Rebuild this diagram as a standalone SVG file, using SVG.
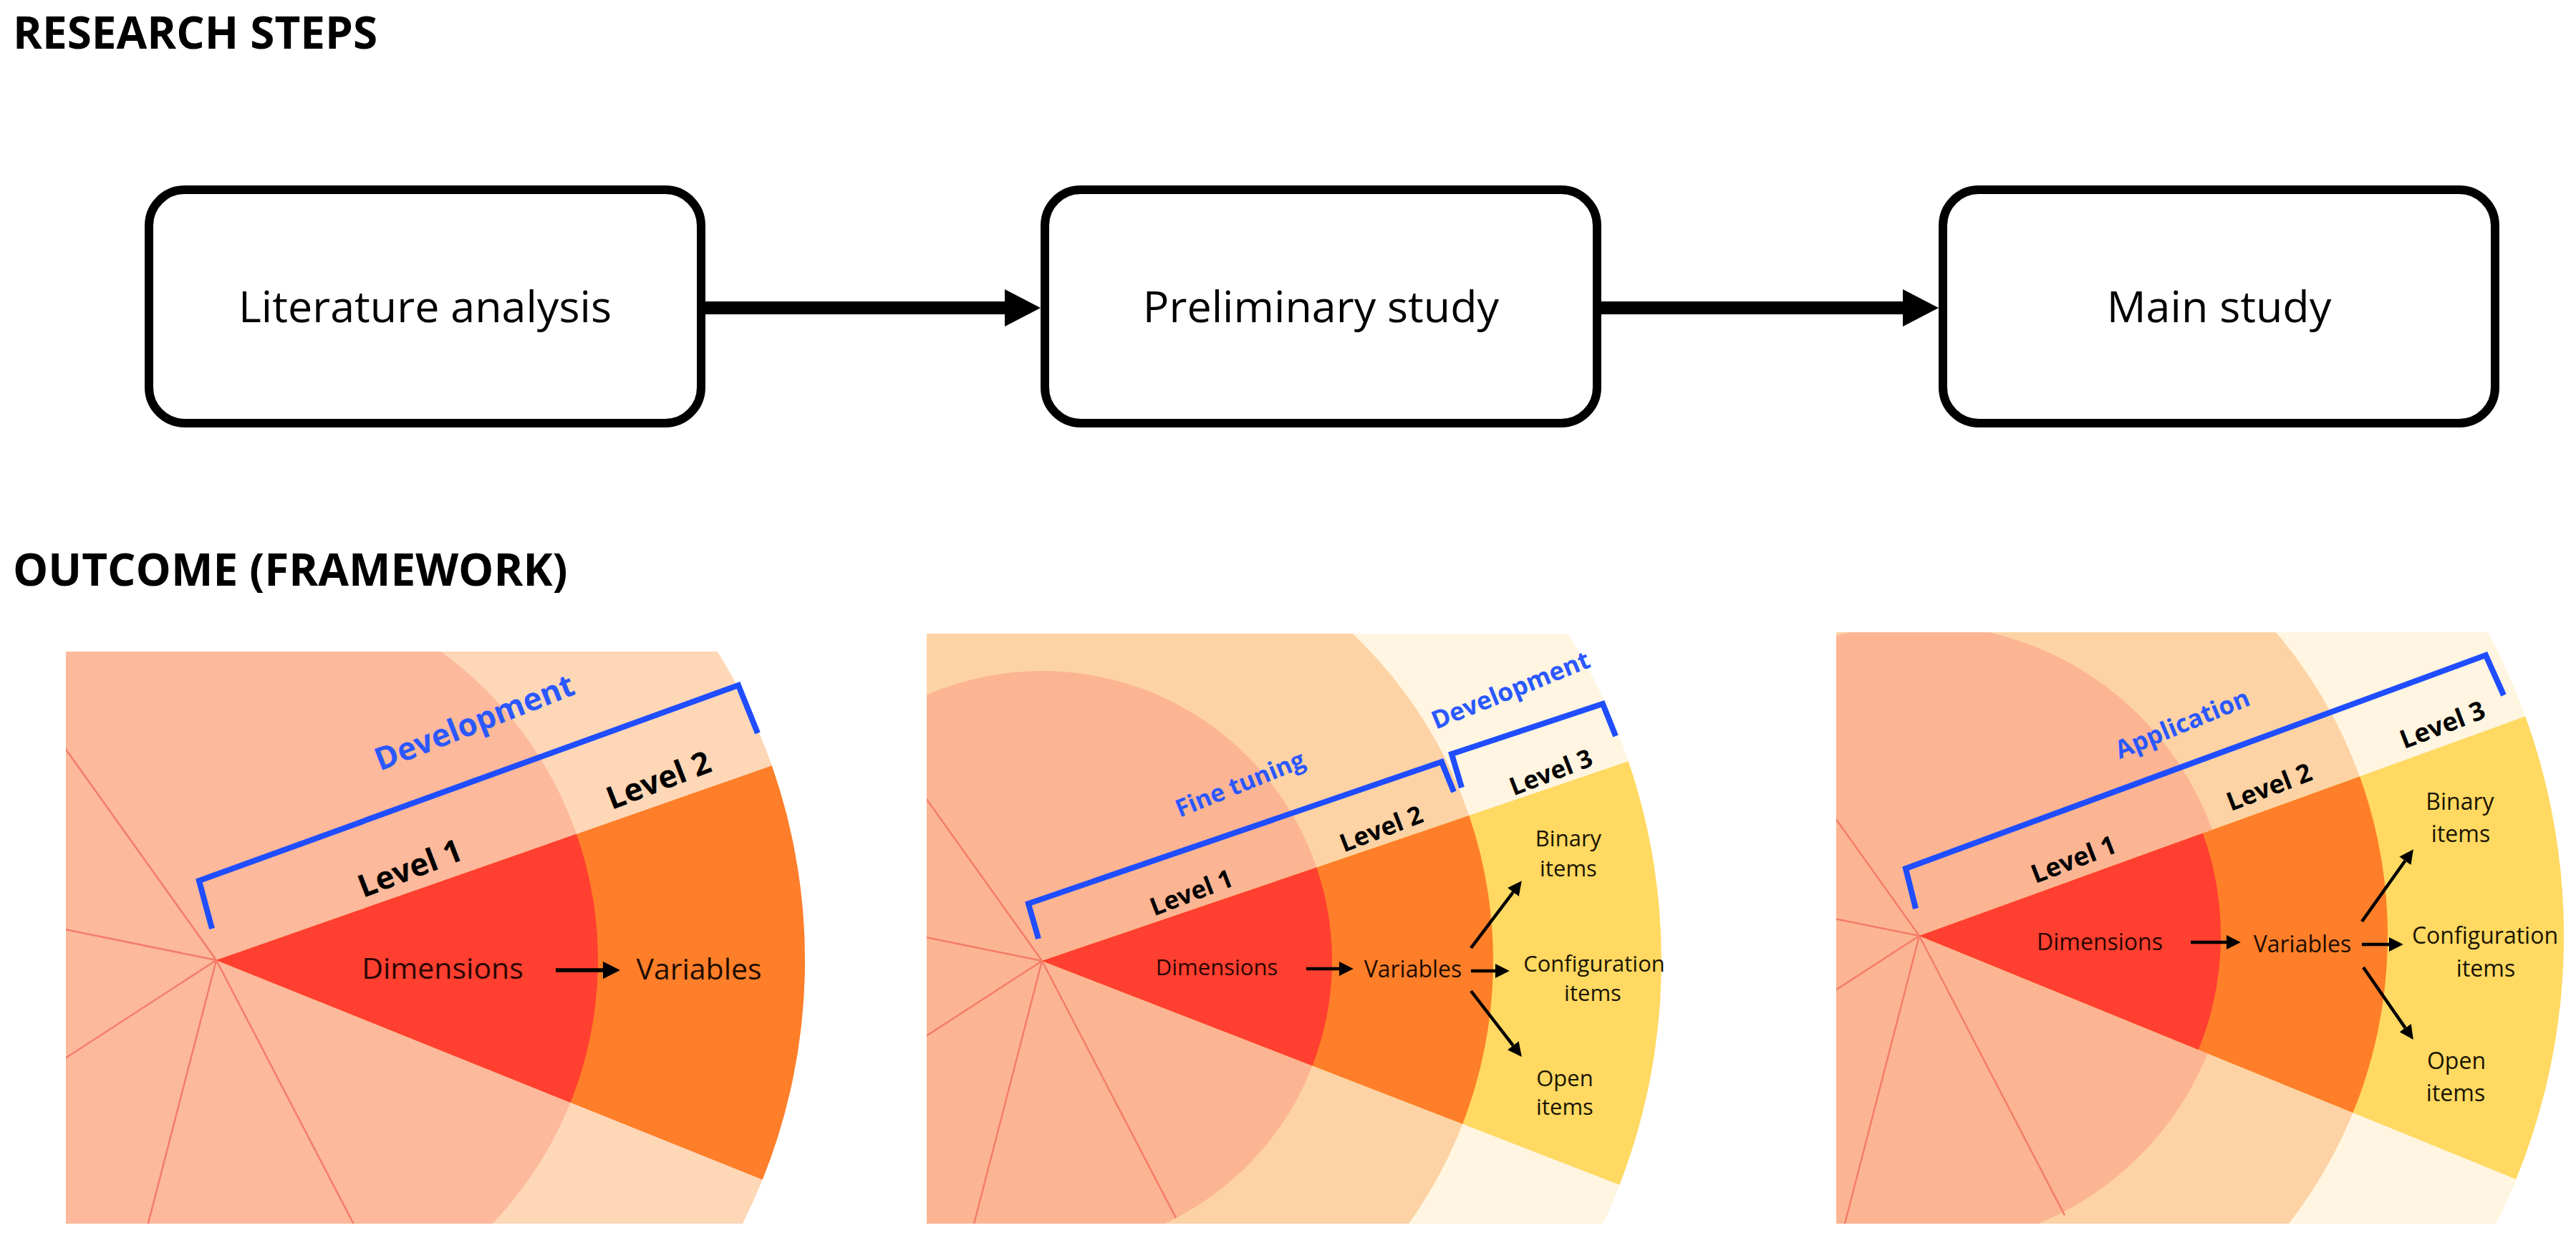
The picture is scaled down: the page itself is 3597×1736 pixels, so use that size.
<svg xmlns="http://www.w3.org/2000/svg" width="3597" height="1736" viewBox="0 0 3597 1736">
<defs>
<style>
.t{font-family:'Open Sans','Liberation Sans',sans-serif}
.title{font-weight:700;font-size:62px;fill:#000}
.box{fill:#fff;stroke:#000;stroke-width:12}
.boxtxt{font-size:61px;fill:#000;text-anchor:middle}
.conn{stroke:#000;stroke-width:18;fill:none}
.spoke{stroke:#F47C6A;stroke-width:2.5;fill:none}
.brk{fill:none;stroke:#1F4DFF;stroke-width:8;stroke-linejoin:miter}
.blue{font-weight:700;fill:#2B58FF;text-anchor:middle}
.lvl{font-weight:700;fill:#000;text-anchor:middle}
.dim{fill:#2B0600;text-anchor:middle}
.var{fill:#1F0D00;text-anchor:middle}
.item{fill:#1A1400;text-anchor:middle}
.sa{stroke:#000;fill:none;marker-end:url(#sh)}
.red{fill:#FF3F30}
.org{fill:#FE7E29}
.yel{fill:#FFD962}
.cream{fill:#FFF5E0}
</style>
<marker id="bh" viewBox="0 0 50 52" refX="0" refY="26" markerWidth="50" markerHeight="52" markerUnits="userSpaceOnUse" orient="auto"><path d="M0,0 L50,26 L0,52 z" fill="#000"/></marker>
<marker id="sh" viewBox="0 0 10 10" refX="0" refY="5" markerWidth="4.4" markerHeight="4.4" markerUnits="strokeWidth" orient="auto"><path d="M0,0 L10,5 L0,10 z" fill="#000"/></marker>
<clipPath id="c1"><rect x="92" y="910" width="1040" height="799"/></clipPath>
<clipPath id="c2"><rect x="1294" y="885" width="1040" height="824"/></clipPath>
<clipPath id="c3"><rect x="2564" y="883" width="1033" height="826"/></clipPath>
</defs>
<rect width="3597" height="1736" fill="#fff"/>

<text class="t title" x="18" y="68">RESEARCH STEPS</text>
<text class="t title" x="18" y="818">OUTCOME (FRAMEWORK)</text>

<g id="step1">
<rect class="box" x="208" y="265" width="771" height="326" rx="50"/>
<text class="t boxtxt" x="593.5" y="450">Literature analysis</text>
</g>
<g id="step2">
<rect class="box" x="1459" y="265" width="771" height="326" rx="50"/>
<text class="t boxtxt" x="1844.5" y="450">Preliminary study</text>
</g>
<g id="step3">
<rect class="box" x="2713" y="265" width="771" height="326" rx="50"/>
<text class="t boxtxt" x="3098.5" y="450">Main study</text>
</g>

<g id="connectors">
<line class="conn" x1="985" y1="430" x2="1403" y2="430" marker-end="url(#bh)"/>
<line class="conn" x1="2236" y1="430" x2="2657" y2="430" marker-end="url(#bh)"/>
</g>

<g id="panel1">
<g clip-path="url(#c1)">
<circle cx="302" cy="1341" r="822" fill="#FED7B7"/>
<circle cx="302" cy="1341" r="533" fill="#FCB99B"/>
<path class="spoke" d="M302,1341 L548.1,1813.8 M302,1341 L168.5,1857 M302,1341 L-145,1631.3 M302,1341 L-220.3,1234.7 M302,1341 L-7.5,907.1"/>
<path class="org" d="M302,1341 L1077.8,1069.3 A822,822 0 0 1 1064.7,1647.6 Z"/>
<path class="red" d="M302,1341 L805,1164.8 A533,533 0 0 1 796.5,1539.8 Z"/>
</g>
<polyline class="brk" points="296,1297 278,1230 1031,957 1058,1024"/>
<text class="t blue" x="668" y="1023" font-size="44" transform="rotate(-21.5 668 1023)">Development</text>
<text class="t lvl" x="578" y="1227" font-size="44" transform="rotate(-21 578 1227)">Level 1</text>
<text class="t lvl" x="925" y="1104" font-size="44" transform="rotate(-21 925 1104)">Level 2</text>
<text class="t dim" x="618" y="1367" font-size="41">Dimensions</text>
<text class="t var" x="976" y="1368" font-size="41">Variables</text>
<line class="sa" x1="776" y1="1355" x2="842" y2="1355" stroke-width="5.5"/>
</g>

<g id="panel2">
<g clip-path="url(#c2)">
<circle cx="1455" cy="1342" r="865" class="cream"/>
<circle cx="1455" cy="1342" r="630" fill="#FDD3A5"/>
<circle cx="1455" cy="1342" r="405" fill="#FCB593"/>
<path class="spoke" d="M1455,1342 L1642,1701.2 M1455,1342 L1353.6,1734.1 M1455,1342 L1115.3,1562.6 M1455,1342 L1058.1,1261.2 M1455,1342 L1219.8,1012.3"/>
<path class="yel" d="M1455,1342 L2273.8,1063.2 A865,865 0 0 1 2261.4,1654.8 Z"/>
<path class="org" d="M1455,1342 L2051.4,1139 A630,630 0 0 1 2042.3,1569.8 Z"/>
<path class="red" d="M1455,1342 L1838.4,1211.5 A405,405 0 0 1 1832.6,1488.4 Z"/>
</g>
<polyline class="brk" points="1450,1311 1436,1262 2013,1064 2030,1106"/>
<polyline class="brk" points="2041,1100 2027,1053 2238,983 2256,1028"/>
<text class="t blue" x="1736" y="1106" font-size="34" transform="rotate(-22 1736 1106)">Fine tuning</text>
<text class="t blue" x="2114" y="975" font-size="35" transform="rotate(-22 2114 975)">Development</text>
<text class="t lvl" x="1668" y="1258" font-size="35" transform="rotate(-21 1668 1258)">Level 1</text>
<text class="t lvl" x="1933" y="1169" font-size="35" transform="rotate(-21 1933 1169)">Level 2</text>
<text class="t lvl" x="2170" y="1090" font-size="35" transform="rotate(-21 2170 1090)">Level 3</text>
<text class="t dim" x="1699" y="1362" font-size="31">Dimensions</text>
<text class="t var" x="1973" y="1365" font-size="32">Variables</text>
<line class="sa" x1="1824" y1="1353" x2="1870" y2="1353" stroke-width="4.5"/>
<line class="sa" x1="2054" y1="1324" x2="2112.9" y2="1246" stroke-width="4.5"/>
<line class="sa" x1="2054" y1="1356" x2="2088" y2="1356" stroke-width="4.5"/>
<line class="sa" x1="2054" y1="1384" x2="2112.8" y2="1460.2" stroke-width="4.5"/>
<text class="t item" font-size="31"><tspan x="2190" y="1182">Binary</tspan><tspan x="2190" y="1224">items</tspan></text>
<text class="t item" font-size="31"><tspan x="2226" y="1357">Configuration</tspan><tspan x="2224" y="1398">items</tspan></text>
<text class="t item" font-size="31"><tspan x="2185" y="1517">Open</tspan><tspan x="2185" y="1557">items</tspan></text>
</g>

<g id="panel3">
<g clip-path="url(#c3)">
<circle cx="2680" cy="1307" r="900" class="cream"/>
<circle cx="2680" cy="1307" r="654" fill="#FDD3A5"/>
<circle cx="2680" cy="1307" r="435" fill="#FCB593"/>
<path class="spoke" d="M2680,1307 L2883.1,1697.3 M2680,1307 L2569.8,1733 M2680,1307 L2311,1546.6 M2680,1307 L2248.8,1219.3 M2680,1307 L2424.5,948.8"/>
<path class="yel" d="M2680,1307 L3526.3,1000.6 A900,900 0 0 1 3513.3,1647 Z"/>
<path class="org" d="M2680,1307 L3295,1084.4 A654,654 0 0 1 3285.5,1554.1 Z"/>
<path class="red" d="M2680,1307 L3075.9,1163.7 A421,421 0 0 1 3069.8,1466.1 Z"/>
</g>
<polyline class="brk" points="2675,1269 2661,1213 3471,915 3496,971"/>
<text class="t blue" x="3052" y="1022" font-size="35" transform="rotate(-22.5 3052 1022)">Application</text>
<text class="t lvl" x="2900" y="1212" font-size="36" transform="rotate(-21 2900 1212)">Level 1</text>
<text class="t lvl" x="3173" y="1111" font-size="36" transform="rotate(-21 3173 1111)">Level 2</text>
<text class="t lvl" x="3415" y="1024" font-size="36" transform="rotate(-21 3415 1024)">Level 3</text>
<text class="t dim" x="2932" y="1327" font-size="32">Dimensions</text>
<text class="t var" x="3215" y="1330" font-size="32">Variables</text>
<line class="sa" x1="3059" y1="1316" x2="3109" y2="1316" stroke-width="4.5"/>
<line class="sa" x1="3298" y1="1287" x2="3358.4" y2="1202.3" stroke-width="4.5"/>
<line class="sa" x1="3298" y1="1319" x2="3336" y2="1319" stroke-width="4.5"/>
<line class="sa" x1="3300" y1="1351" x2="3358.6" y2="1435.6" stroke-width="4.5"/>
<text class="t item" font-size="32"><tspan x="3435" y="1131">Binary</tspan><tspan x="3436" y="1176">items</tspan></text>
<text class="t item" font-size="32"><tspan x="3470" y="1318">Configuration</tspan><tspan x="3471" y="1364">items</tspan></text>
<text class="t item" font-size="32"><tspan x="3430" y="1493">Open</tspan><tspan x="3429" y="1538">items</tspan></text>
</g>
</svg>
